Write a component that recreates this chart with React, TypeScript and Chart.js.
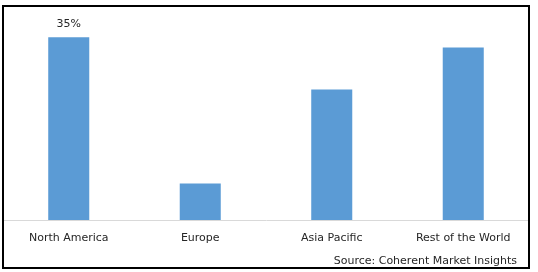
import React, { useEffect, useRef } from "react";
import { Chart, registerables } from "chart.js";

Chart.register(...registerables);

const categories = ["North America", "Europe", "Asia Pacific", "Rest of the World"];
const shares = [35, 7, 25, 33];
const valueLabels = ["35%", "", "", ""];
const sourceText = "Source: Coherent Market Insights";

const FONT = "'DejaVu Sans', sans-serif";

const extrasPlugin = {
  id: "extras",
  afterDatasetsDraw(chart: any) {
    const ctx = chart.ctx;
    const meta = chart.getDatasetMeta(0);
    ctx.save();
    ctx.font = `11px ${FONT}`;
    ctx.fillStyle = "#262626";
    ctx.textAlign = "center";
    ctx.textBaseline = "middle";
    meta.data.forEach((bar: any, i: number) => {
      if (valueLabels[i]) ctx.fillText(valueLabels[i], bar.x, bar.y - 13);
    });
    ctx.textAlign = "right";
    ctx.fillStyle = "#262626";
    ctx.fillText(sourceText, 517, 261);
    ctx.restore();
  },
  afterDraw(chart: any) {
    const ctx = chart.ctx;
    ctx.save();
    ctx.strokeStyle = "#000000";
    ctx.lineWidth = 2;
    ctx.strokeRect(3, 6, 526, 262);
    ctx.restore();
  },
};

export default function App() {
  const ref = useRef<HTMLCanvasElement | null>(null);
  useEffect(() => {
    if (!ref.current) return;
    const chart = new Chart(ref.current, {
      type: "bar",
      data: {
        labels: categories,
        datasets: [
          {
            data: shares,
            backgroundColor: "#5B9BD5",
            barPercentage: 0.312,
            categoryPercentage: 1,
          },
        ],
      },
      options: {
        animation: false,
        responsive: false,
        maintainAspectRatio: false,
        layout: { padding: { left: 3, right: 9, top: 11, bottom: 0 } },
        plugins: { legend: { display: false }, tooltip: { enabled: false } },
        scales: {
          x: {
            grid: { display: false, drawTicks: false },
            border: { display: true, color: "#d9d9d9", width: 1 },
            ticks: {
              padding: 12,
              color: "#262626",
              font: { family: FONT, size: 11 },
              maxRotation: 0,
              autoSkip: false,
            },
            afterFit: (scale: any) => {
              scale.height = 52;
            },
          },
          y: {
            display: false,
            min: 0,
            max: 40,
          },
        },
      },
      plugins: [extrasPlugin],
    });
    return () => chart.destroy();
  }, []);
  return (
    <div style={{ position: "fixed", left: 0, top: 0, width: 538, height: 272, background: "#fff" }}>
      <canvas ref={ref} width={538} height={272} style={{ display: "block" }} />
    </div>
  );
}
